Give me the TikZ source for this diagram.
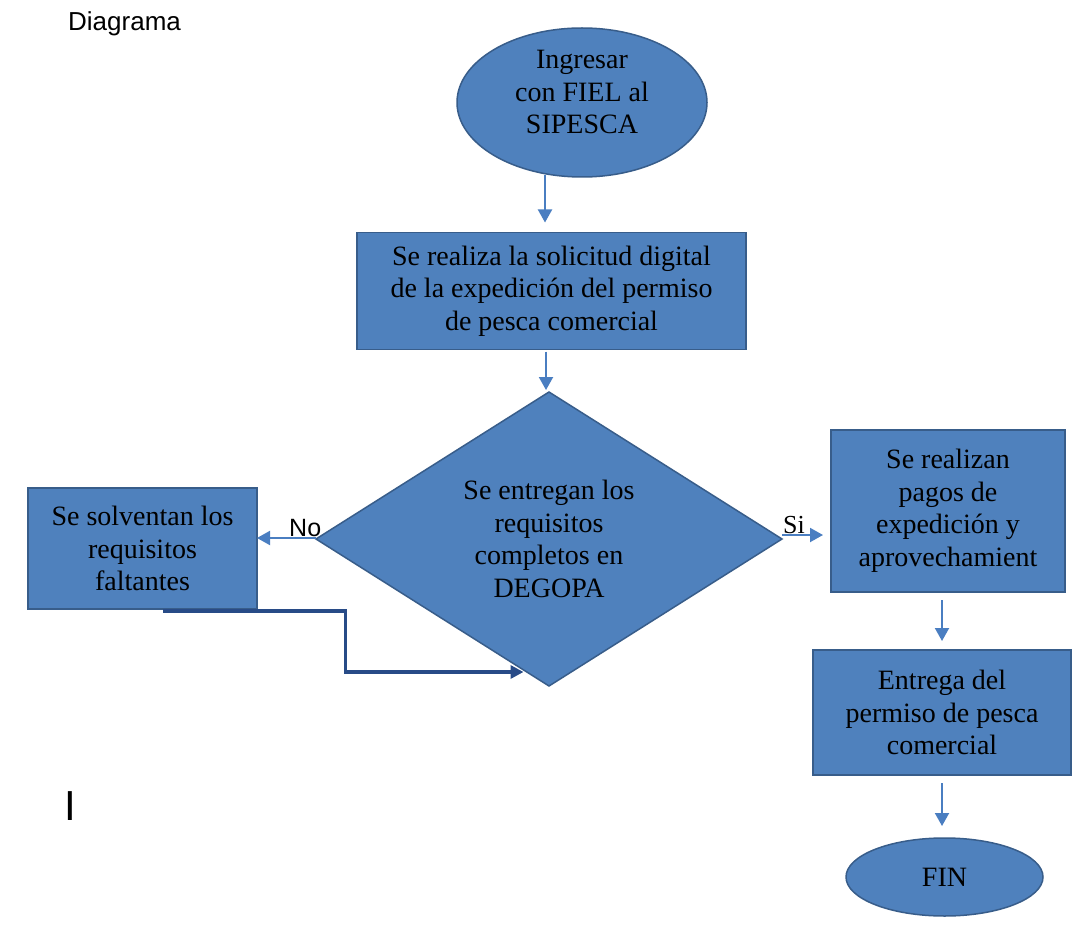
\documentclass[tikz,border=0pt]{standalone}
\usepackage{fontspec}
\setmainfont{Liberation Serif}
\newfontfamily\sansf{Liberation Sans}
\usetikzlibrary{shapes.geometric,arrows.meta,calc}
\definecolor{boxfill}{RGB}{79,129,189}
\definecolor{boxline}{RGB}{56,93,138}
\definecolor{arrcol}{RGB}{74,126,193}
\definecolor{loopcol}{RGB}{40,75,135}
\begin{document}
\begin{tikzpicture}[x=1pt,y=-1pt,
  shapebase/.style={draw=boxline, line width=1.5pt, fill=boxfill, inner sep=0pt, outer sep=0pt},
  txt/.style={align=center, inner sep=0pt, font=\fontsize{28}{32.5}\selectfont},
  box/.style={shapebase, txt},
  ell/.style={shapebase, ellipse, txt},
  dia/.style={shapebase, diamond, aspect=1.585, txt},
  arr/.style={draw=arrcol, line width=2pt, -{Triangle[width=14pt,length=13pt]}},
  loopline/.style={draw=loopcol, line width=3.5pt, -{Triangle[width=13pt,length=13pt]}},
  lab/.style={inner sep=0pt, anchor=base west}
]
\fill[white] (0,0) rectangle (1073,936);
\useasboundingbox (0,0) rectangle (1073,936);

\node[lab, font=\sansf\fontsize{26}{30}\selectfont] (diag) at (68,31) {Diagrama};
\node[lab, font=\sansf\fontsize{42}{46}\selectfont] (bar) at (64,820) {I};

\node[ell, minimum width=250pt, minimum height=149pt] (start) at (582,102.5) {};
\node[txt] (starttxt) at (582,92) {Ingresar\\con FIEL al\\SIPESCA};

\node[box, minimum width=389pt, minimum height=117pt] (box1) at (551.5,291)
  {Se realiza la solicitud digital\\de la expedición del permiso\\de pesca comercial};

\node[dia, minimum width=466pt, minimum height=294pt] (dia) at (549,539)
  {Se entregan los\\requisitos\\completos en\\DEGOPA};

\node[box, minimum width=229pt, minimum height=121pt] (lbox) at (142.5,548.5)
  {Se solventan los\\requisitos\\faltantes};

\node[box, minimum width=234pt, minimum height=162pt] (rbox) at (948,511)
  {Se realizan\\pagos de\\expedición y\\aprovechamient};

\node[box, minimum width=258pt, minimum height=125pt] (ebox) at (942,712.5)
  {Entrega del\\permiso de pesca\\comercial};

\node[ell, minimum width=197pt, minimum height=78pt] (fin) at (944.5,877) {FIN};

\node[lab, font=\sansf\fontsize{25}{28}\selectfont] (no) at (289,536) {No};
\node[lab, font=\fontsize{26}{28}\selectfont] (si) at (783,533) {Si};

% connectors
\draw[arr] ([xshift=-37pt,yshift=2pt]start.south) -- ([xshift=-6.5pt,yshift=10pt]box1.north);
\draw[arr] ([xshift=-5.5pt,yshift=-2pt]box1.south) -- ([xshift=-3pt,yshift=2pt]dia.north);
\draw[arr] ([yshift=1pt]dia.west) -- ([yshift=1pt]dia.west -| lbox.east);
\draw[arr, shorten >=8pt] ([yshift=4pt]dia.east) -- ([yshift=4pt]dia.east -| rbox.west);
\draw[arr, shorten <=8pt, shorten >=9pt] (rbox.south -| ebox.north) -- (ebox.north);
\draw[arr, shorten <=8pt, shorten >=12pt] (ebox.south) -- (ebox.south |- fin.north);
\coordinate (lp) at ([xshift=20.5pt,yshift=-2pt]lbox.south);
\draw[loopline] (lp) -- ++(182.5,0) -- ++(0,61) -- ++(178,0);
\end{tikzpicture}
\end{document}
